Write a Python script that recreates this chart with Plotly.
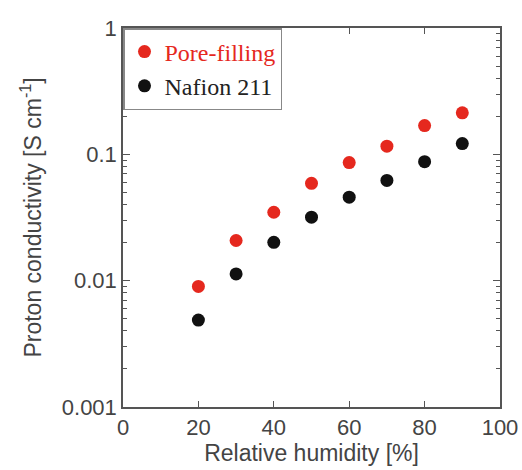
import plotly.graph_objects as go

rh = [20, 30, 40, 50, 60, 70, 80, 90]
pore_filling = [0.0090, 0.0208, 0.0348, 0.059, 0.086, 0.116, 0.169, 0.213]
nafion_211 = [0.00488, 0.0113, 0.0201, 0.0318, 0.0458, 0.0622, 0.0875, 0.1216]

y_tickvals = [0.001, 0.01, 0.1, 1]
y_ticktext = ["0.001", "0.01", "0.1", "1"]
x_tickvals = [0, 20, 40, 60, 80, 100]
minor_y = [m * 10 ** e for e in (-3, -2, -1) for m in range(2, 10)]

fig = go.Figure()
fig.add_trace(go.Scatter(
    x=rh, y=pore_filling, mode="markers",
    name="<span style='color:#e5281e'>Pore-filling</span>",
    marker=dict(color="#e5281e", size=13, line=dict(width=0)),
))
fig.add_trace(go.Scatter(
    x=rh, y=nafion_211, mode="markers",
    name="<span style='color:#222'>Nafion 211</span>",
    marker=dict(color="#111111", size=13, line=dict(width=0)),
))

axis_common = dict(
    showgrid=False, zeroline=False, showline=True, linecolor="#555",
    linewidth=1.5, mirror="ticks", ticks="inside", tickcolor="#555",
    automargin=False,
    tickfont=dict(family="Liberation Sans, Arial", size=22, color="#444"),
)

fig.update_layout(
    width=522, height=470,
    margin=dict(l=123, r=22, t=28, b=63),
    paper_bgcolor="white", plot_bgcolor="white",
    showlegend=True,
    legend=dict(
        x=0, y=1, xanchor="left", yanchor="top",
        bordercolor="#888", borderwidth=1.5, bgcolor="white",
        font=dict(family="Liberation Serif, Times New Roman", size=24),
        tracegroupgap=0, itemwidth=30,
    ),
    xaxis=dict(
        range=[0, 100], tickvals=x_tickvals, ticklen=6,
        title=dict(text="Relative humidity [%]", standoff=6,
                   font=dict(family="Liberation Sans, Arial", size=23, color="#444")),
        **axis_common,
    ),
    yaxis=dict(
        type="log", range=[-3, 0], tickvals=y_tickvals, ticktext=y_ticktext,
        ticklen=7,
        minor=dict(tickvals=minor_y, ticks="inside", ticklen=4, tickcolor="#555", showgrid=False),
        title=dict(text="Proton conductivity [S cm<sup>-1</sup>]", standoff=14,
                   font=dict(family="Liberation Sans, Arial", size=23, color="#444")),
        **axis_common,
    ),
)

fig.write_html("out.html")
